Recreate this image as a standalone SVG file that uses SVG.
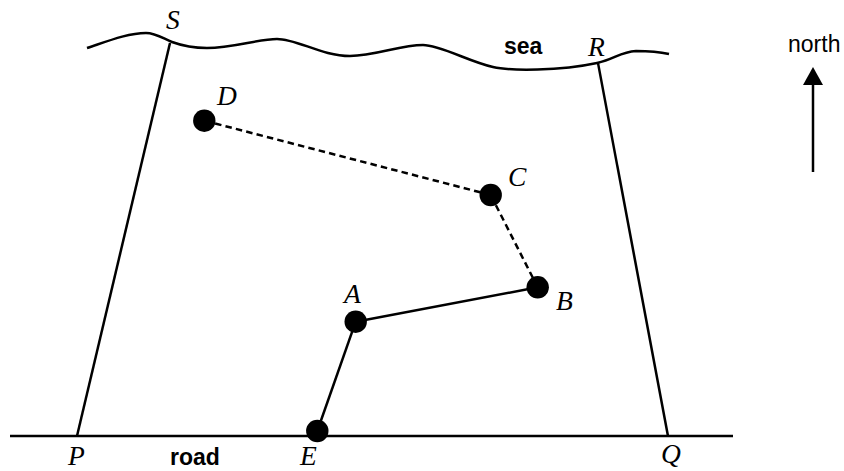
<svg xmlns="http://www.w3.org/2000/svg" width="844" height="471" viewBox="0 0 844 471">
<style>
.l{fill:none;stroke:#000;stroke-width:2.5}
.d{stroke-dasharray:6.500 4.200}
.p{fill:#000}
.i{font:italic 27.500px "Liberation Serif",serif;fill:#000}
.b{font:bold 23px "Liberation Sans",sans-serif;fill:#000}
.n{font:23px "Liberation Sans",sans-serif;fill:#000}
</style>
<rect width="844" height="471" fill="#fff"/>
<g id="connectors">
<path id="sea" class="l" d="M87 48C108 41 128 33 146 33C156 33 164 39 172 42C183 46 195 48 207 48C233 48 258 39 277 39C297 39 322 56 350 56C375 56 400 45 423 45C440 45 470 62 493 67C510 71 560 71 597 63C615 59 620 52 636 51C648 51 660 52 669 54"/>
<path id="road" class="l" d="M10 436H733"/>
<path class="l" d="M170 43L77 436"/>
<path class="l" d="M598 63L668 436"/>
<path class="l" d="M317.300 431L355.700 321.700"/>
<path class="l" d="M355.700 321.700L537.700 287.300"/>
<path class="l d" d="M537.700 287.300L490.700 195"/>
<path class="l d" d="M490.700 195L204.300 120.700"/>
<path class="l" d="M813 172V85"/>
<path class="p" d="M813 67L803 85H823Z"/>
</g>
<g id="node-D"><circle class="p" cx="204.300" cy="120.700" r="11.200"/><text class="i" x="217" y="105">D</text></g>
<g id="node-C"><circle class="p" cx="490.700" cy="195" r="11.200"/><text class="i" x="508" y="186">C</text></g>
<g id="node-B"><circle class="p" cx="537.700" cy="287.300" r="11.200"/><text class="i" x="556" y="310">B</text></g>
<g id="node-A"><circle class="p" cx="355.700" cy="321.700" r="11.200"/><text class="i" x="344" y="303">A</text></g>
<g id="node-E"><circle class="p" cx="317.300" cy="431" r="11.200"/><text class="i" x="300" y="465">E</text></g>
<g id="node-P"><text class="i" x="68" y="465">P</text></g>
<g id="node-Q"><text class="i" x="661" y="463">Q</text></g>
<g id="node-R"><text class="i" x="588" y="56">R</text></g>
<g id="node-S"><text class="i" x="166" y="29">S</text></g>
<text class="b" x="504" y="54">sea</text>
<text class="b" x="170" y="465">road</text>
<text class="n" x="788" y="52">north</text>
</svg>
